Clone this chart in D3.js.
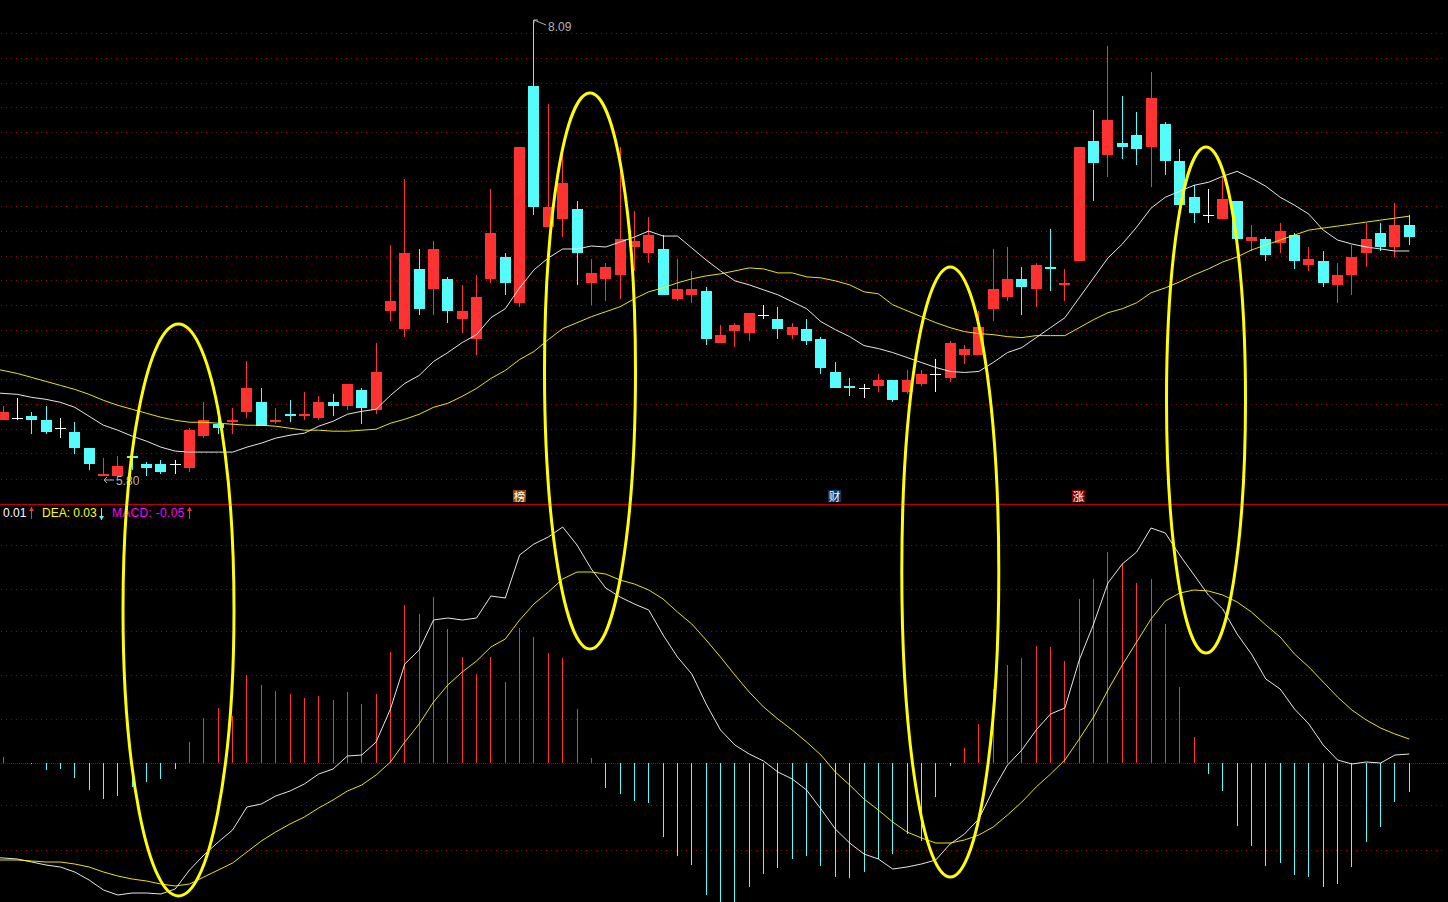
<!DOCTYPE html>
<html>
<head>
  <meta charset="utf-8">
  <title>K线 MACD</title>
  <style>
    html, body { margin: 0; padding: 0; background: #000; overflow: hidden; }
    svg { display: block; background: #000; }
    text { font-family: "Liberation Sans", Arial, sans-serif; }
  </style>
</head>
<body>
  <div id="chart"></div>

  <script src="https://d3js.org/d3.v7.min.js"></script>
  <script>
    // price panel, one entry per trading day
    const opens = [6.08,6.09,6.10,6.08,6.04,6.02,5.94,5.80,5.80,5.90,5.86,5.86,5.86,5.84,6.00,6.06,6.07,6.12,6.17,6.07,6.11,6.10,6.09,6.17,6.15,6.23,6.13,
      6.63,6.54,6.84,6.74,6.79,6.59,6.49,
      6.79,6.90,6.67,7.76,7.05,7.09,7.14,6.77,6.79,6.81,6.95,6.92,6.94,6.69,6.71,6.73,6.47,6.53,6.52,6.61,6.59,6.51,6.54,6.49,6.32,6.25,6.24,6.25,6.28,6.22,6.26,6.31,6.29,6.41,6.41,
      6.64,6.70,6.79,6.74,6.85,6.76,6.88,7.48,7.41,7.47,7.51,7.45,7.57,7.38,7.20,7.11,7.09,7.18,6.98,6.99,6.97,7.01,6.86,6.88,6.76,6.81,6.92,7.02,6.95,7.06];
    const closes = [6.12,6.09,6.08,6.02,6.04,5.94,5.86,5.81,5.85,5.89,5.84,5.82,5.86,6.03,6.08,6.04,6.08,6.24,6.05,6.08,6.10,6.11,6.17,6.15,6.26,6.14,6.32,
      6.68,6.92,6.64,6.94,6.63,6.63,6.70,
      7.02,6.77,7.45,7.15,7.15,7.27,6.92,6.82,6.85,6.99,6.98,7.01,6.71,6.74,6.74,6.49,6.51,6.56,6.62,6.61,6.54,6.55,6.48,6.34,6.24,6.24,6.24,6.28,6.18,6.28,6.31,6.31,6.47,6.44,6.55,
      6.74,6.79,6.75,6.86,6.84,6.77,7.45,7.37,7.59,7.45,7.44,7.70,7.38,7.16,7.12,7.11,7.19,6.99,7.00,6.91,7.03,6.88,6.89,6.77,6.81,6.90,6.99,6.95,7.06,7.00];
    const highs = [6.15,6.19,6.12,6.15,6.09,6.07,5.94,5.89,5.90,5.90,5.87,5.88,5.88,6.04,6.17,6.11,6.14,6.38,6.24,6.14,6.18,6.22,6.20,6.21,6.26,6.24,6.47,
      6.96,7.29,6.94,6.98,6.80,6.76,6.81,
      7.24,6.92,7.45,8.09,7.67,7.41,7.18,6.89,6.87,7.45,7.13,7.10,7.01,6.89,6.83,6.75,6.56,6.57,6.62,6.66,6.65,6.57,6.59,6.50,6.37,6.29,6.26,6.31,6.28,6.33,6.33,6.39,6.48,6.46,6.63,
      6.94,6.95,6.85,6.87,7.04,6.84,7.45,7.64,7.96,7.71,7.63,7.83,7.58,7.44,7.26,7.24,7.30,7.18,7.06,7.00,7.07,7.02,6.95,6.93,6.87,6.96,7.07,7.07,7.17,7.11];
    const lows = [6.08,6.08,6.01,6.01,5.99,5.91,5.83,5.80,5.80,5.83,5.80,5.81,5.81,5.82,5.99,6.01,6.01,6.09,6.05,6.06,6.07,6.08,6.08,6.10,6.13,6.06,6.11,
      6.58,6.50,6.61,6.61,6.57,6.52,6.41,
      6.77,6.71,6.65,7.11,7.05,7.00,6.76,6.66,6.68,6.69,6.83,6.87,6.71,6.68,6.67,6.46,6.47,6.45,6.48,6.59,6.49,6.49,6.46,6.31,6.24,6.20,6.19,6.22,6.17,6.21,6.25,6.22,6.27,6.36,6.41,
      6.58,6.68,6.61,6.65,6.73,6.68,6.88,7.18,7.30,7.39,7.36,7.25,7.31,7.16,7.07,7.07,7.09,6.99,6.93,6.88,6.92,6.84,6.83,6.75,6.67,6.71,6.85,6.93,6.90,6.96];

    // line series start one day earlier than the candles, that day is off the left edge
    const maShort = [6.22,6.215,6.21,6.195,6.185,6.17,6.145,6.10,6.055,6.03,6.00,5.975,5.945,5.925,5.92,5.92,5.92,5.92,5.945,5.965,5.99,6.005,6.015,6.05,6.075,6.11,6.125,6.135,
      6.205,6.265,6.305,6.375,6.42,6.47,6.51,6.595,6.64,6.745,6.835,6.895,6.94,6.94,6.955,6.95,6.975,7.00,7.03,7.005,7.005,6.945,6.885,6.83,6.78,6.76,6.735,6.71,6.675,6.64,6.575,6.535,6.50,6.455,6.44,6.42,6.395,6.37,6.345,6.325,6.32,6.325,
      6.37,6.42,6.445,6.495,6.545,6.595,6.695,6.795,6.895,6.965,7.05,7.145,7.20,7.23,7.26,7.275,7.305,7.33,7.295,7.255,7.20,7.16,7.115,7.035,6.985,6.965,6.95,6.94,6.93,6.93];
    const maLong = [6.345,6.33,6.315,6.295,6.275,6.255,6.235,6.21,6.18,6.155,6.135,6.115,6.095,6.08,6.07,6.07,6.065,6.06,6.055,6.055,6.05,6.04,6.03,6.03,6.025,6.025,6.03,6.035,
      6.065,6.085,6.11,6.145,6.165,6.20,6.24,6.29,6.33,6.385,6.425,6.485,6.54,6.57,6.60,6.625,6.65,6.69,6.725,6.745,6.77,6.79,6.805,6.815,6.83,6.845,6.84,6.82,6.82,6.80,6.795,6.78,6.76,6.725,6.715,6.66,6.63,6.60,6.57,6.545,6.525,6.515,
      6.51,6.50,6.495,6.505,6.505,6.505,6.545,6.585,6.62,6.64,6.67,6.72,6.745,6.775,6.81,6.84,6.875,6.90,6.935,6.96,6.985,7.01,7.035,7.045,7.055,7.065,7.075,7.085,7.095,7.105];

    // MACD panel
    const macdBars = [0.006,0,-0.001,-0.007,-0.006,-0.015,-0.027,-0.036,-0.033,-0.024,-0.019,-0.016,-0.006,0.021,0.045,0.055,0.047,0.088,0.078,0.072,0.069,0.065,0.067,0.063,0.071,0.059,0.069,
      0.111,0.158,0.149,0.166,0.134,0.106,0.089,
      0.106,0.081,0.135,0.126,0.110,0.105,0.054,0.005,-0.025,-0.031,-0.038,-0.040,-0.074,-0.093,-0.102,-0.132,-0.145,-0.145,-0.124,-0.111,-0.105,-0.096,-0.093,-0.103,-0.114,-0.115,-0.109,-0.096,-0.091,-0.071,-0.078,-0.034,-0.003,
      0.015,0.039,0.074,0.098,0.105,0.117,0.116,0.102,0.164,0.184,0.211,0.200,0.180,0.184,0.139,0.076,0.026,-0.011,-0.028,-0.063,-0.083,-0.103,-0.100,-0.112,-0.114,-0.124,-0.121,-0.104,-0.079,-0.064,-0.039,-0.029];
    const difLine = [-0.094,-0.095,-0.096,-0.099,-0.102,-0.104,-0.109,-0.117,-0.127,-0.132,-0.130,-0.130,-0.131,-0.126,-0.107,-0.092,-0.079,-0.067,-0.044,-0.041,-0.033,-0.028,-0.021,-0.011,-0.006,0.007,0.008,0.021,
      0.054,0.099,0.113,0.143,0.145,0.143,0.145,
      0.167,0.165,0.208,0.219,0.226,0.236,0.218,0.194,0.175,0.166,0.159,0.153,0.128,0.106,0.089,0.059,0.033,0.018,0.009,0.002,-0.009,-0.016,-0.027,-0.046,-0.066,-0.080,-0.091,-0.096,-0.106,-0.104,-0.101,-0.097,-0.081,
      -0.071,-0.056,-0.027,-0.002,0.013,0.033,0.049,0.055,0.103,0.139,0.180,0.199,0.211,0.235,0.230,0.208,0.188,0.168,0.154,0.129,0.109,0.084,0.074,0.054,0.039,0.018,0.003,-0.001,0.001,0,0.008,0.009];
    const deaLine = [-0.097,-0.097,-0.097,-0.098,-0.099,-0.099,-0.101,-0.104,-0.109,-0.113,-0.116,-0.118,-0.121,-0.123,-0.121,-0.114,-0.107,-0.100,-0.089,-0.078,-0.069,-0.061,-0.054,-0.045,-0.037,-0.028,-0.022,-0.012,
      0.001,0.021,0.039,0.061,0.078,0.091,0.102,
      0.116,0.124,0.143,0.159,0.171,0.184,0.191,0.191,0.189,0.183,0.179,0.173,0.164,0.151,0.139,0.123,0.106,0.088,0.071,0.056,0.044,0.033,0.021,0.008,-0.009,-0.022,-0.036,-0.047,-0.059,-0.069,-0.075,-0.080,-0.080,
      -0.077,-0.072,-0.064,-0.052,-0.039,-0.024,-0.011,0.003,0.024,0.046,0.073,0.098,0.121,0.144,0.162,0.170,0.173,0.172,0.168,0.161,0.151,0.138,0.126,0.109,0.096,0.081,0.066,0.053,0.043,0.035,0.029,0.024];

    // dotted grid levels
    const priceGrid = [8.215,8.025,7.90,7.776,7.652,7.528,7.404,7.28,7.155,7.03,6.906,6.782,6.658,6.534,6.41,6.285,6.161,6.037,5.913,5.785];
    const macdGrid = [0.218,0.174,0.132,0.088,0.044,0,-0.042,-0.087];

    const width = 1448;
    const height = 902;
    const red = "#ff3232";
    const cyan = "#54fcfc";

    const svg = d3.select("#chart").append("svg")
      .attr("width", width)
      .attr("height", height);

    const x = d3.scaleLinear().domain([0, opens.length - 1]).range([3, 1409.3]);
    const yPrice = d3.scaleLinear().domain([5.80, 8.09]).range([476, 20]);
    const yMacd = d3.scaleLinear().domain([-0.139, 0.263]).range([902, 500]);
    const px = i => Math.floor(x(i)) + 0.5;

    // grid
    const gridLine = (g, y, dash) => g.append("line")
      .attr("x1", 1).attr("x2", 1446)
      .attr("y1", Math.round(y) + 0.5).attr("y2", Math.round(y) + 0.5)
      .attr("stroke", "#a80000")
      .attr("stroke-dasharray", dash)
      .attr("shape-rendering", "crispEdges");

    const grid = svg.append("g");
    priceGrid.forEach(d => gridLine(grid, yPrice(d), "1 4"));
    macdGrid.forEach(d => gridLine(grid, yMacd(d), d === 0 ? "1 1" : "1 4"));

    // pane separator
    svg.append("line")
      .attr("x1", 0).attr("x2", width)
      .attr("y1", 504.5).attr("y2", 504.5)
      .attr("stroke", "#c00000")
      .attr("shape-rendering", "crispEdges");

    // macd bars
    svg.append("g").selectAll("line")
      .data(macdBars)
      .join("line")
      .attr("x1", (d, i) => px(i))
      .attr("x2", (d, i) => px(i))
      .attr("y1", yMacd(0))
      .attr("y2", d => yMacd(d))
      .attr("stroke", d => d > 0 ? red : cyan)
      .attr("shape-rendering", "crispEdges");

    // candles
    const candleColor = i => closes[i] > opens[i] ? red : closes[i] < opens[i] ? cyan : "#ffffff";
    const candles = svg.append("g").selectAll("g")
      .data(d3.range(opens.length))
      .join("g");

    candles.append("line")
      .attr("x1", px)
      .attr("x2", px)
      .attr("y1", i => yPrice(highs[i]))
      .attr("y2", i => yPrice(lows[i]))
      .attr("stroke", candleColor)
      .attr("shape-rendering", "crispEdges");

    candles.append("rect")
      .attr("x", i => px(i) - 5.5)
      .attr("width", 11)
      .attr("y", i => yPrice(Math.max(opens[i], closes[i])))
      .attr("height", i => Math.max(1, Math.abs(yPrice(opens[i]) - yPrice(closes[i]))))
      .attr("fill", candleColor)
      .attr("shape-rendering", "crispEdges");

    // moving averages and macd lines
    const lineOf = y => d3.line().x((d, i) => x(i - 1)).y(d => y(d));
    const addLine = (values, y, color) => svg.append("path")
      .datum(values)
      .attr("d", lineOf(y))
      .attr("fill", "none")
      .attr("stroke", color)
      .attr("stroke-width", 0.9);

    addLine(maShort, yPrice, "#ffffff");
    addLine(maLong, yPrice, "#ffff00");
    addLine(difLine, yMacd, "#ffffff");
    addLine(deaLine, yMacd, "#ffff00");

    // high / low labels
    svg.append("path")
      .attr("d", `M534,23 L534,20 L538,20 M534,20 L546,25`)
      .attr("fill", "none")
      .attr("stroke", "#b0b0b0");
    svg.append("text").attr("x", 548).attr("y", 31)
      .attr("fill", "#b4b4b4").attr("font-size", 12).text("8.09");
    svg.append("path")
      .attr("d", `M114,480 L104,480 M107,477 L104,480 L107,483`)
      .attr("fill", "none")
      .attr("stroke", "#b0b0b0");
    svg.append("text").attr("x", 116).attr("y", 485)
      .attr("fill", "#b4b4b4").attr("font-size", 12).text("5.80");

    // event badges
    const badgeLabels = ["榜", "财", "涨"];
    const badgeDays = [36, 58, 75];
    const badgeColors = ["#8a4600", "#003a70", "#800000"];
    badgeLabels.forEach((label, k) => {
      const cx = Math.round(x(badgeDays[k])) - 0.5;
      svg.append("rect")
        .attr("x", cx - 6.5).attr("y", 490)
        .attr("width", 13).attr("height", 12)
        .attr("fill", badgeColors[k]);
      svg.append("text")
        .attr("x", cx).attr("y", 500.5)
        .attr("text-anchor", "middle")
        .attr("fill", "#ffffff")
        .attr("font-size", 11.5)
        .style("font-family", '"Noto Sans CJK SC"')
        .text(label);
    });

    // macd legend
    const legendLabels = ["0.01", "DEA: 0.03", "MACD: -0.05"];
    const legendColors = ["#ffffff", "#ffff00", "#ff00ff"];
    const legendX = [3, 42, 112];
    const legendSpacing = [0, 0, 0.3];
    const legendArrowColors = [red, cyan, red];
    const legendArrowX = [31.5, 101.5, 189.5];
    const legendArrowDir = [-1, 1, -1];
    legendLabels.forEach((label, k) => {
      svg.append("text")
        .attr("x", legendX[k]).attr("y", 517)
        .attr("fill", legendColors[k])
        .attr("font-size", 12)
        .attr("letter-spacing", legendSpacing[k])
        .text(label);
      const ax = legendArrowX[k];
      const tip = legendArrowDir[k] < 0 ? 507 : 520;
      const tail = legendArrowDir[k] < 0 ? 519 : 508;
      svg.append("line")
        .attr("x1", ax).attr("x2", ax)
        .attr("y1", tip).attr("y2", tail)
        .attr("stroke", legendArrowColors[k])
        .attr("shape-rendering", "crispEdges");
      svg.append("path")
        .attr("d", `M${ax},${tip} L${ax - 2.5},${tip - legendArrowDir[k] * 4} L${ax + 2.5},${tip - legendArrowDir[k] * 4} Z`)
        .attr("fill", legendArrowColors[k]);
    });

    // hand drawn yellow circles on top of everything
    const circles = [
      { cx: 178.5, cy: 610, rx: 55.5, ry: 286 },
      { cx: 590, cy: 371, rx: 45.5, ry: 278 },
      { cx: 950.3, cy: 572, rx: 48.5, ry: 305 },
      { cx: 1206, cy: 400, rx: 39.5, ry: 253 }
    ];
    svg.append("g").selectAll("ellipse")
      .data(circles)
      .join("ellipse")
      .attr("cx", d => d.cx)
      .attr("cy", d => d.cy)
      .attr("rx", d => d.rx)
      .attr("ry", d => d.ry)
      .attr("fill", "none")
      .attr("stroke", "#ffff00")
      .attr("stroke-width", 3);
  </script>
</body>
</html>
